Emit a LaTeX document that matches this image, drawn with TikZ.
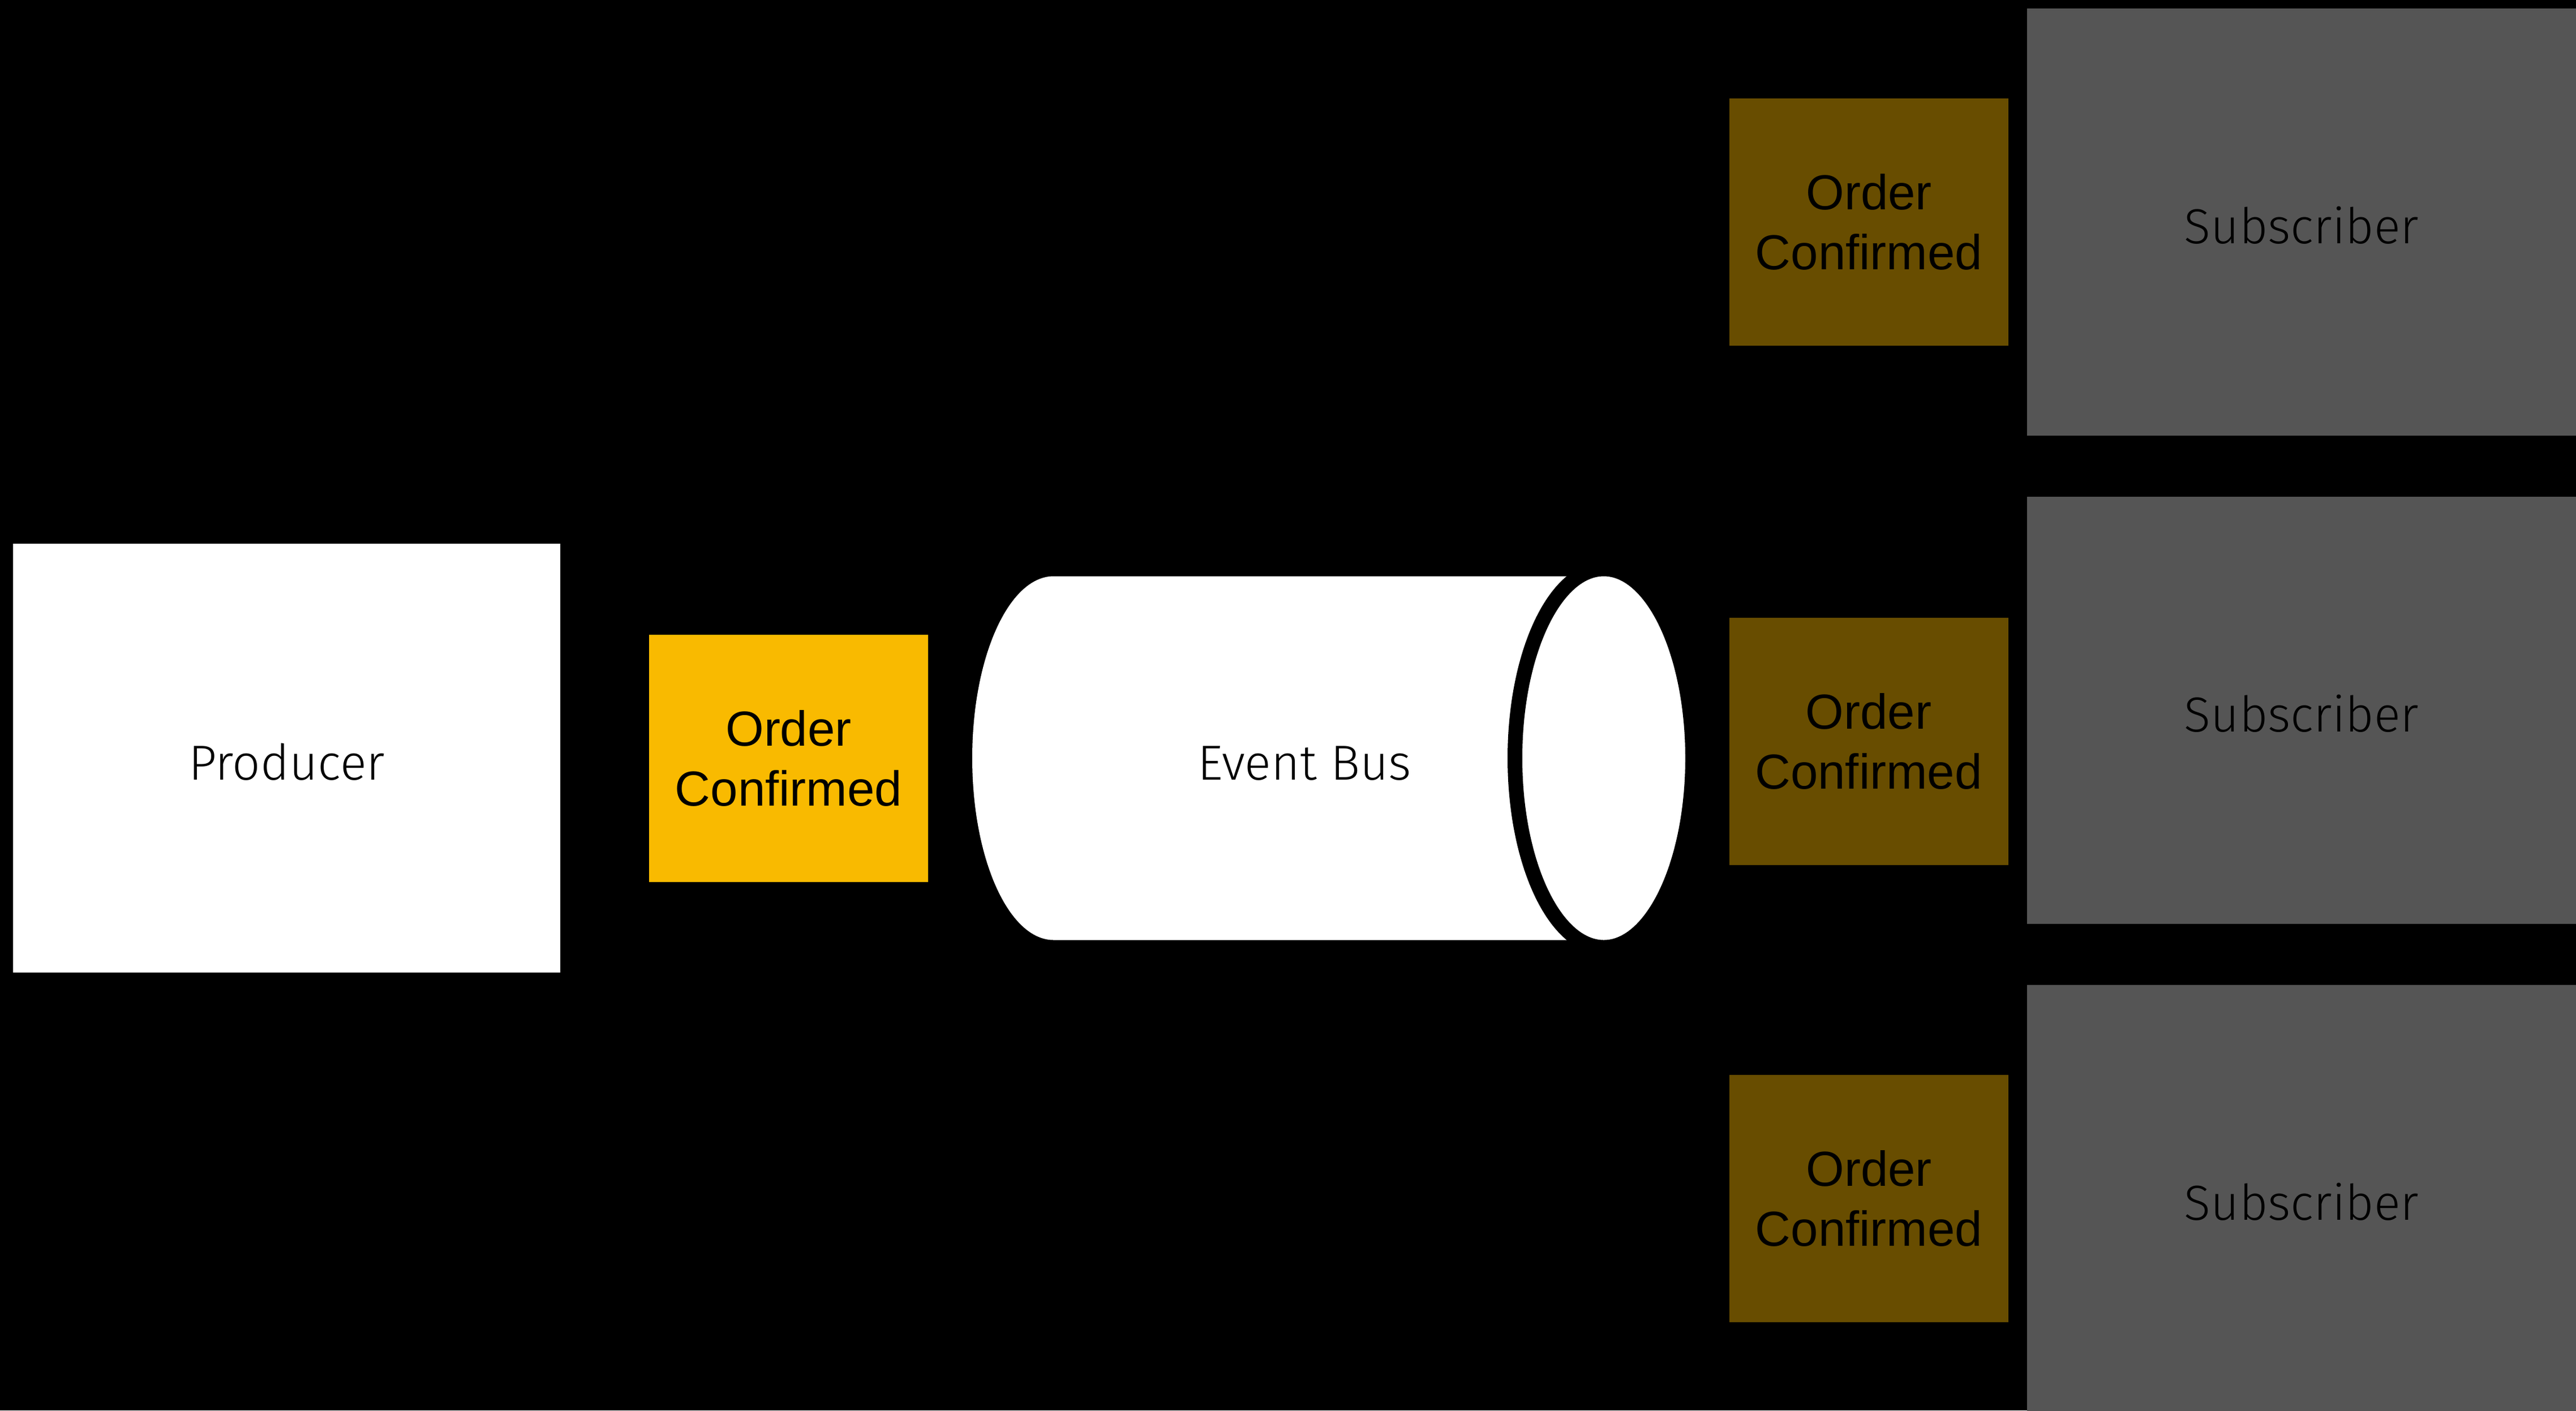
\documentclass[tikz,border=0pt]{standalone}
\usepackage{fontspec}
\setmainfont{Liberation Sans}
\newfontfamily\lightfont{Fira Sans Light}
\usetikzlibrary{positioning}
\definecolor{eventyellow}{HTML}{F9BA00}
\definecolor{eventbrown}{HTML}{684D00}
\definecolor{subgray}{HTML}{555555}

\begin{document}
\begin{tikzpicture}[
    every node/.style={inner sep=0pt, outer sep=0pt, align=center},
    service/.style={rectangle, minimum width=9.7cm, minimum height=7.55cm,
        text height=0.76cm, text depth=0pt,
        font=\lightfont\fontsize{24.75}{29.7}\selectfont},
    event/.style={rectangle, minimum width=4.93cm, minimum height=4.37cm,
        font=\fontsize{24.75}{30.2}\selectfont}]
    \fill[black] (0,0) rectangle (45.52,-24.93);
    \useasboundingbox (0,0) rectangle (45.52,-24.93);

    \node[service, fill=white, minimum width=9.67cm, minimum height=7.58cm] (producer) at (5.065,-13.40) {Producer};
    \node[event, fill=eventyellow, right=1.57cm of producer] (evt) {Order\\Confirmed};

    % event bus drum
    \fill[white] (18.62,-10.185) arc[start angle=90, end angle=270, x radius=1.44, y radius=3.215]
        -- (28.34,-16.615) -- (28.34,-10.185) -- cycle;
    \draw[black, fill=white, line width=0.26cm] (28.34,-13.40) ellipse[x radius=1.57, y radius=3.345];
    \node[text height=0.76cm, text depth=0pt, font=\lightfont\fontsize{24.75}{29.7}\selectfont] (bus) at (23.05,-13.40) {Event Bus};

    \node[service, fill=subgray] (sub1) at (40.67,-3.925) {Subscriber};
    \node[service, fill=subgray, below=1.08cm of sub1] (sub2) {Subscriber};
    \node[service, fill=subgray, below=1.08cm of sub2] (sub3) {Subscriber};

    \node[event, fill=eventbrown, left=0.33cm of sub1] (evt1) {Order\\Confirmed};
    \node[event, fill=eventbrown] (evt2) at (33.02,-13.10) {Order\\Confirmed};
    \node[event, fill=eventbrown, left=0.33cm of sub3] (evt3) {Order\\Confirmed};
\end{tikzpicture}
\end{document}
